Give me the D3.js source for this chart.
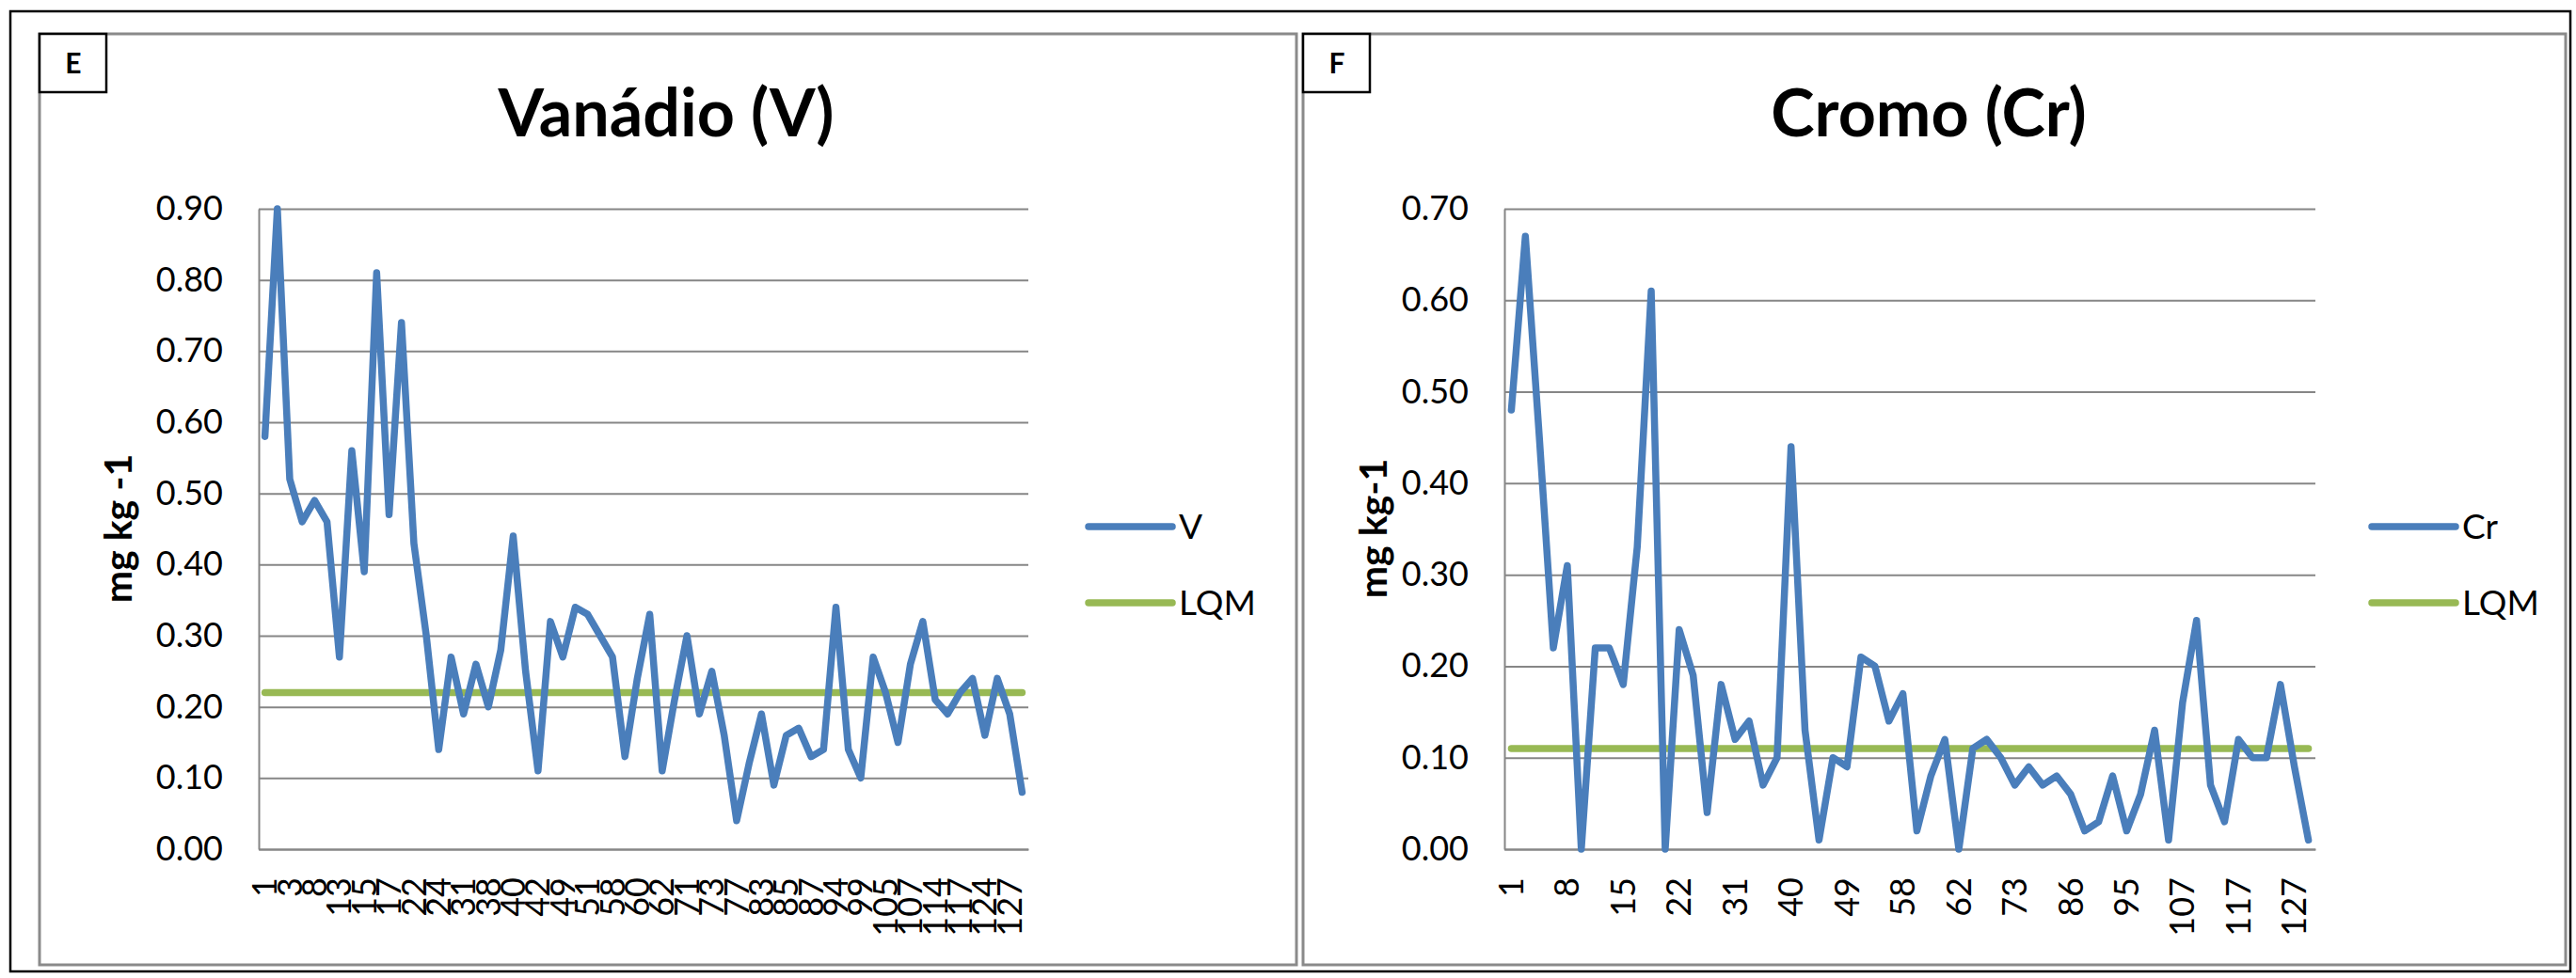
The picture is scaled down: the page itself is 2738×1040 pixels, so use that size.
<!DOCTYPE html>
<html>
<head>
<meta charset="utf-8">
<script src="https://cdn.jsdelivr.net/npm/d3@7"></script>
<style>
  body { margin: 0; background: #fff; }
  svg text { font-family: Lato, "Open Sans", sans-serif; fill: #000; }
</style>
</head>
<body>
<script>
// Vanádio (V) - sample ids and values (mg kg-1)
const vIds = [1, 2, 3, 5, 8, 10, 13, 14, 15, 16, 17, 20, 22, 23, 24, 29, 31, 33, 38, 39,
  40, 41, 42, 45, 49, 50, 51, 53, 58, 59, 60, 61, 62, 67, 71, 72, 73, 75, 77, 80,
  83, 84, 85, 86, 87, 91, 94, 95, 99, 102, 105, 106, 107, 110, 114, 115, 117, 120, 124, 125,
  127, 130];
const vValues = [0.58, 0.90, 0.52, 0.46, 0.49, 0.46, 0.27, 0.56, 0.39, 0.81,
  0.47, 0.74, 0.43, 0.30, 0.14, 0.27, 0.19, 0.26, 0.20, 0.28,
  0.44, 0.25, 0.11, 0.32, 0.27, 0.34, 0.33, 0.30, 0.27, 0.13,
  0.24, 0.33, 0.11, 0.21, 0.30, 0.19, 0.25, 0.16, 0.04, 0.12,
  0.19, 0.09, 0.16, 0.17, 0.13, 0.14, 0.34, 0.14, 0.10, 0.27,
  0.22, 0.15, 0.26, 0.32, 0.21, 0.19, 0.22, 0.24, 0.16, 0.24,
  0.19, 0.08];
const vLqm = 0.22;
const vTicks = [0, 0.1, 0.2, 0.3, 0.4, 0.5, 0.6, 0.7, 0.8, 0.9];

// Cromo (Cr)
const crIds = [1, 2, 3, 5, 8, 10, 13, 14, 15, 16, 17, 20, 22, 23, 24, 29, 31, 33, 38, 39,
  40, 42, 45, 47, 49, 51, 53, 55, 58, 59, 60, 61, 62, 67, 71, 72, 73, 77, 80, 83,
  86, 87, 91, 94, 95, 99, 102, 105, 107, 110, 114, 115, 117, 120, 124, 125, 127, 130];
const crValues = [0.48, 0.67, 0.45, 0.22, 0.31, 0.00, 0.22, 0.22, 0.18, 0.33,
  0.61, 0.00, 0.24, 0.19, 0.04, 0.18, 0.12, 0.14, 0.07, 0.10,
  0.44, 0.13, 0.01, 0.10, 0.09, 0.21, 0.20, 0.14, 0.17, 0.02,
  0.08, 0.12, 0.00, 0.11, 0.12, 0.10, 0.07, 0.09, 0.07, 0.08,
  0.06, 0.02, 0.03, 0.08, 0.02, 0.06, 0.13, 0.01, 0.16, 0.25,
  0.07, 0.03, 0.12, 0.10, 0.10, 0.18, 0.09, 0.01];
const crLqm = 0.11;
const crTicks = [0, 0.1, 0.2, 0.3, 0.4, 0.5, 0.6, 0.7];

const W = 2738, H = 1040;
const BLUE = '#4a7ebb', GREEN = '#98b954', GRID = '#868686';

const svg = d3.select('body').append('svg')
  .attr('width', W)
  .attr('height', H);

svg.append('rect')
  .attr('width', W).attr('height', H)
  .attr('fill', '#fff');

// outer table border
svg.append('rect')
  .attr('x', 11).attr('y', 12)
  .attr('width', 2721).attr('height', 1021)
  .attr('fill', 'none')
  .attr('stroke', '#000')
  .attr('stroke-width', 2.5);

function drawPanel(p) {
  const g = svg.append('g');

  // chart frame
  g.append('rect')
    .attr('x', p.frame[0]).attr('y', 36)
    .attr('width', p.frame[1] - p.frame[0]).attr('height', 990)
    .attr('fill', '#fff')
    .attr('stroke', '#8a8a8a')
    .attr('stroke-width', 3);

  // letter box
  g.append('rect')
    .attr('x', p.frame[0]).attr('y', 36)
    .attr('width', 71).attr('height', 62)
    .attr('fill', '#fff')
    .attr('stroke', '#000')
    .attr('stroke-width', 2.5);
  g.append('text')
    .attr('x', p.frame[0] + 36).attr('y', 67)
    .attr('dy', '0.35em')
    .attr('text-anchor', 'middle')
    .style('font-size', '30px')
    .style('font-weight', 'bold')
    .text(p.letter);

  // title
  g.append('text')
    .attr('x', p.titleX).attr('y', 145)
    .attr('text-anchor', 'middle')
    .style('font-size', '70px')
    .style('font-weight', 'bold')
    .text(p.title);

  const x = d3.scaleBand()
    .domain(d3.range(p.values.length))
    .range([p.left, p.right]);
  const y = d3.scaleLinear()
    .domain([0, p.ticks[p.ticks.length - 1]])
    .range([903, 222]);
  const cx = i => x(i) + x.bandwidth() / 2;

  // gridlines
  g.append('g')
    .attr('transform', `translate(${p.left},0)`)
    .call(d3.axisLeft(y).tickValues(p.ticks).tickSize(-(p.right - p.left)).tickFormat(''))
    .call(a => a.select('.domain').remove())
    .call(a => a.selectAll('line').attr('stroke', GRID).attr('stroke-width', 2));

  // y axis
  g.append('g')
    .attr('transform', `translate(${p.left},0)`)
    .call(d3.axisLeft(y).tickValues(p.ticks).tickSize(0).tickPadding(38).tickFormat(d3.format('.2f')))
    .call(a => a.select('.domain').attr('stroke', GRID).attr('stroke-width', 2))
    .call(a => a.selectAll('text').style('font-size', '36px').attr('fill', '#000'));

  // x axis
  g.append('g')
    .attr('transform', 'translate(0,903)')
    .call(d3.axisBottom(x)
      .tickValues(d3.range(0, p.values.length, p.step))
      .tickSize(0)
      .tickFormat(i => p.ids[i]))
    .call(a => a.select('.domain').attr('stroke', GRID).attr('stroke-width', 2))
    .call(a => a.selectAll('text')
      .attr('y', 0).attr('x', -30).attr('dy', '0.35em')
      .attr('transform', 'rotate(-90)')
      .attr('text-anchor', 'end')
      .attr('fill', '#000')
      .style('font-size', '36px'));

  // y title
  g.append('text')
    .attr('transform', `translate(${p.yTitleX},562) rotate(-90)`)
    .attr('dy', '0.35em')
    .attr('text-anchor', 'middle')
    .style('font-size', '41px')
    .style('font-weight', 'bold')
    .text(p.yTitle);

  // LQM line
  g.append('path')
    .datum(p.values)
    .attr('fill', 'none')
    .attr('stroke', GREEN)
    .attr('stroke-width', 7.5)
    .attr('stroke-linecap', 'round')
    .attr('d', d3.line().x((d, i) => cx(i)).y(() => y(p.lqm)));

  // series line
  g.append('path')
    .datum(p.values)
    .attr('fill', 'none')
    .attr('stroke', BLUE)
    .attr('stroke-width', 7.5)
    .attr('stroke-linejoin', 'round')
    .attr('stroke-linecap', 'round')
    .attr('d', d3.line().x((d, i) => cx(i)).y(d => y(d)));

  // legend
  const legend = [[p.name, BLUE, 560], ['LQM', GREEN, 641]];
  legend.forEach(([name, color, ly]) => {
    g.append('line')
      .attr('x1', p.legendX).attr('x2', p.legendX + 89)
      .attr('y1', ly).attr('y2', ly)
      .attr('stroke', color)
      .attr('stroke-width', 7.5)
      .attr('stroke-linecap', 'round');
    g.append('text')
      .attr('x', p.legendX + 96).attr('y', ly)
      .attr('dy', '0.35em')
      .style('font-size', '37px')
      .text(name);
  });
}

drawPanel({
  frame: [42, 1378], letter: 'E', title: 'Vanádio (V)', titleX: 708,
  left: 275, right: 1093, ids: vIds, values: vValues, lqm: vLqm, ticks: vTicks,
  step: 2, yTitle: 'mg kg -1', yTitleX: 126, legendX: 1157, name: 'V'
});

drawPanel({
  frame: [1385, 2727], letter: 'F', title: 'Cromo (Cr)', titleX: 2050,
  left: 1599, right: 2461, ids: crIds, values: crValues, lqm: crLqm, ticks: crTicks,
  step: 4, yTitle: 'mg kg-1', yTitleX: 1460, legendX: 2521, name: 'Cr'
});
</script>
</body>
</html>
